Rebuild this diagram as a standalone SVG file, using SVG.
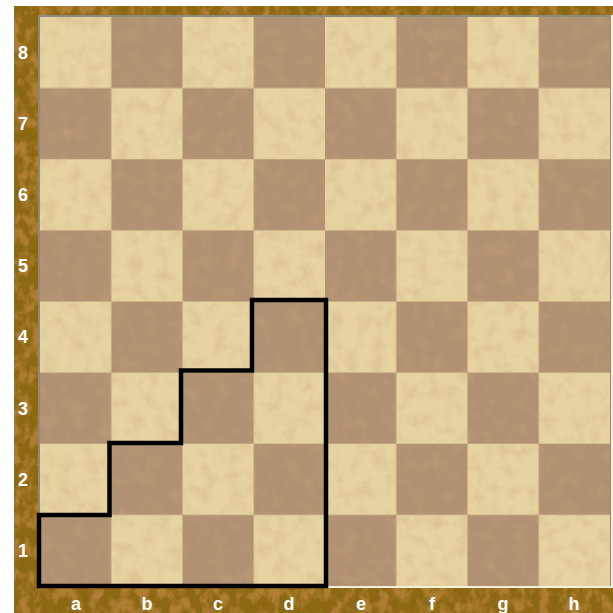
<svg xmlns="http://www.w3.org/2000/svg" width="613" height="613" viewBox="0 0 613 613">
<defs>
<style>
.l{fill:#e6d3a1}
.d{fill:#b09171}
.lbl{font-family:"Liberation Sans",Arial,sans-serif;font-weight:bold;font-size:18px;fill:#ffffff;text-anchor:middle}
</style>
<filter id="woodTex" x="0" y="0" width="100%" height="100%">
<feTurbulence type="fractalNoise" baseFrequency="0.1 0.07" numOctaves="4" seed="4"/>
<feColorMatrix type="matrix" values="0 0 0 0 0.45  0 0 0 0 0.22  0 0 0 0 0.04  0 0 0 -3.5 2.05"/>
</filter>
<filter id="sqTex" x="0" y="0" width="100%" height="100%">
<feTurbulence type="fractalNoise" baseFrequency="0.07" numOctaves="3" seed="9"/>
<feColorMatrix type="matrix" values="0 0 0 0 0.62  0 0 0 0 0.38  0 0 0 0 0.22  0 0 0 -2.2 1.25"/>
</filter>
<pattern id="checker" x="40" y="17" width="142.5" height="142.25" patternUnits="userSpaceOnUse">
<rect x="0" y="0" width="142.5" height="142.25" class="d"/>
<rect x="0" y="0" width="71.25" height="71.125" class="l"/>
<rect x="71.25" y="71.125" width="71.25" height="71.125" class="l"/>
</pattern>
</defs>
<rect x="0" y="0" width="613" height="613" fill="#ffffff"/>
<g id="frame">
<rect x="14" y="6" width="599" height="607" fill="#8c6812"/>
<rect x="14" y="6" width="599" height="607" filter="url(#woodTex)" opacity="0.9"/>
</g>
<g id="board">
<rect x="38" y="15" width="575" height="573" fill="#f4eedc"/>
<rect x="38" y="15" width="573" height="571" fill="#8c8a7c"/>
<rect x="40" y="17" width="570" height="569" fill="url(#checker)"/>
<rect x="40" y="17" width="570" height="569" filter="url(#sqTex)" opacity="0.35"/>
</g>
<g id="rank-labels" class="lbl">
<text x="23" y="59">8</text>
<text x="23" y="130">7</text>
<text x="23" y="201">6</text>
<text x="23" y="272">5</text>
<text x="23" y="343">4</text>
<text x="23" y="415">3</text>
<text x="23" y="486">2</text>
<text x="23" y="557">1</text>
</g>
<g id="file-labels" class="lbl">
<text x="76" y="610">a</text>
<text x="147" y="610">b</text>
<text x="218" y="610">c</text>
<text x="289" y="610">d</text>
<text x="361" y="610">e</text>
<text x="432" y="610">f</text>
<text x="503" y="610">g</text>
<text x="574" y="610">h</text>
</g>
<g id="connectors">
<path d="M39,586 V515 H109.5 V443 H181 V370.5 H252 V300 H326 V586 Z" fill="none" stroke="#000000" stroke-width="4.5" stroke-linejoin="miter"/>
</g>
</svg>
